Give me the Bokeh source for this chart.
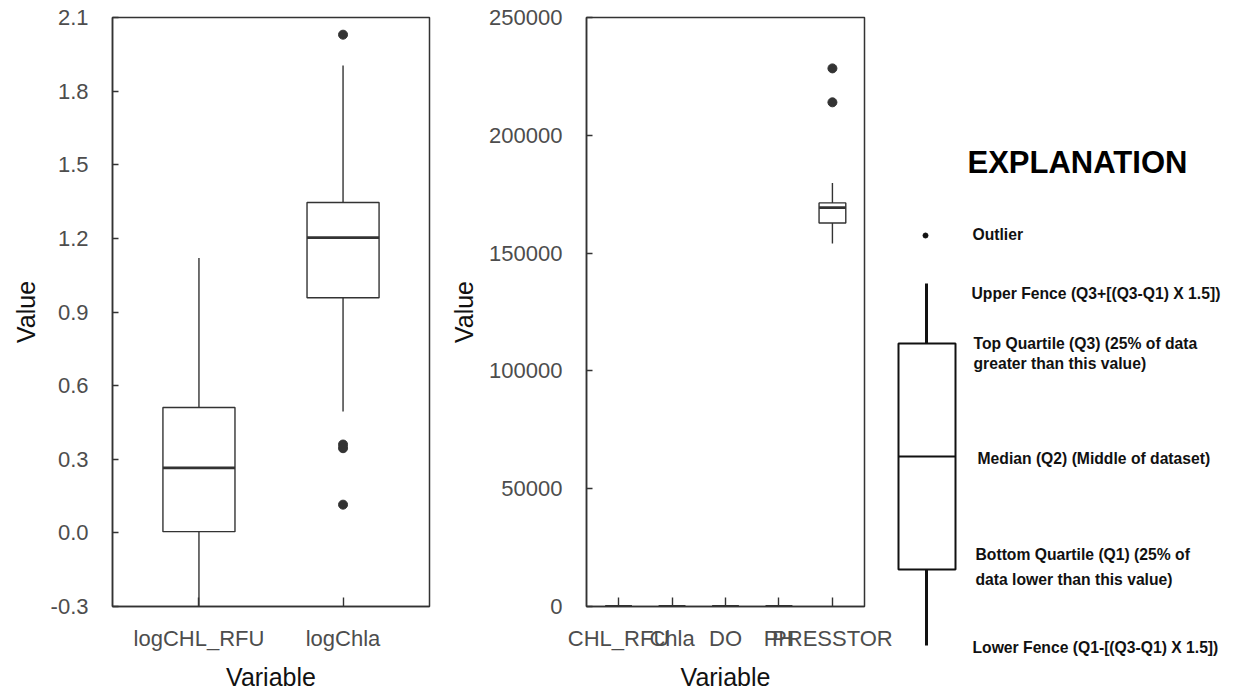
from bokeh.plotting import figure
from bokeh.layouts import row
from bokeh.models import Range1d, FixedTicker, PrintfTickFormatter, ColumnDataSource
from bokeh.transform import dodge
from bokeh.embed import file_html
from bokeh.resources import INLINE
from bokeh.core.properties import value

# ---------------- data: log-transformed variables ----------------
log_vars = ["logCHL_RFU", "logChla"]
log_lower = [-0.30, 0.495]
log_q1 = [0.005, 0.958]
log_median = [0.265, 1.203]
log_q3 = [0.511, 1.346]
log_upper = [1.12, 1.904]
log_out_var = ["logChla", "logChla", "logChla", "logChla"]
log_out_val = [2.03, 0.36, 0.345, 0.115]
log_yticks = [-0.3, 0.0, 0.3, 0.6, 0.9, 1.2, 1.5, 1.8, 2.1]

# ---------------- data: raw variables ----------------
raw_vars = ["CHL_RFU", "Chla", "DO", "PH", "PRESSTOR"]
raw_lower = [0.5, 3.1, 5.0, 7.3, 154100]
raw_q1 = [1.0, 9.1, 7.0, 7.8, 162800]
raw_median = [1.8, 16.0, 8.5, 8.1, 169300]
raw_q3 = [3.2, 22.2, 9.5, 8.4, 171300]
raw_upper = [13.2, 80.0, 12.0, 8.9, 179800]
raw_out_var = ["PRESSTOR", "PRESSTOR"]
raw_out_val = [228400, 214000]
raw_yticks = [0, 50000, 100000, 150000, 200000, 250000]

# ---------------- explanation key (schematic) ----------------
key_fence_low = 48
key_q1 = 124
key_median = 237
key_q3 = 350
key_fence_high = 410
key_outlier = 458
key_texts = ["Outlier",
             "Upper Fence (Q3+[(Q3-Q1) X 1.5])",
             "Top Quartile (Q3) (25% of data",
             "greater than this value)",
             "Median (Q2) (Middle of dataset)",
             "Bottom Quartile (Q1) (25% of",
             "data lower than this value)",
             "Lower Fence (Q1-[(Q3-Q1) X 1.5])"]

LINE = "#333333"
TICK_COLOR = "#4d4d4d"
FONT = "Liberation Sans"
H = 693


def make_panel(cats, lower, q1, med, q3, upper, out_cat, out_val,
               yr, yticks, fmt, width, border_left, border_right):
    p = figure(width=width, height=H, output_backend="svg", toolbar_location=None,
               x_range=Range1d(0.4, len(cats) + 0.6), y_range=Range1d(*yr),
               min_border_left=border_left, min_border_right=border_right,
               min_border_top=17, min_border_bottom=86)
    p.frame_align = False
    p.xgrid.visible = False
    p.ygrid.visible = False
    p.outline_line_color = LINE
    p.outline_line_width = 1.5
    p.background_fill_color = "white"
    p.border_fill_color = "white"

    xs = list(range(1, len(cats) + 1))
    src = ColumnDataSource(dict(x=xs, lower=lower, q1=q1, med=med, q3=q3, upper=upper))
    p.segment(x0="x", y0="q3", x1="x", y1="upper", source=src, line_color=LINE, line_width=1.4)
    p.segment(x0="x", y0="lower", x1="x", y1="q1", source=src, line_color=LINE, line_width=1.4)
    p.vbar(x="x", width=0.5, bottom="q1", top="q3", source=src,
           fill_color="white", line_color=LINE, line_width=1.4)
    p.segment(x0=dodge("x", -0.25), y0="med", x1=dodge("x", 0.25), y1="med", source=src,
              line_color=LINE, line_width=2.8)
    ox = [cats.index(c) + 1 for c in out_cat]
    p.scatter(x=ox, y=out_val, size=9, fill_color=LINE, line_color=LINE)

    # x axis
    xa = p.xaxis[0]
    xa.ticker = FixedTicker(ticks=xs)
    xa.major_label_overrides = {i: c for i, c in zip(xs, cats)}
    xa.minor_tick_line_color = None
    xa.major_tick_in = 9
    xa.major_tick_out = 0
    xa.major_tick_line_color = LINE
    xa.major_tick_line_width = 1.4
    xa.axis_line_color = LINE
    xa.axis_line_width = 1.5
    xa.major_label_text_font = FONT
    xa.major_label_text_font_size = "22px"
    xa.major_label_text_color = TICK_COLOR
    xa.major_label_standoff = 19
    xa.axis_label = "Variable"
    xa.axis_label_text_font = FONT
    xa.axis_label_text_font_size = "25px"
    xa.axis_label_text_font_style = "normal"
    xa.axis_label_text_color = "#111111"
    xa.axis_label_standoff = 9

    # y axis
    ya = p.yaxis[0]
    ya.ticker = FixedTicker(ticks=yticks)
    ya.formatter = PrintfTickFormatter(format=fmt)
    ya.minor_tick_line_color = None
    ya.major_tick_in = 6
    ya.major_tick_out = 0
    ya.major_tick_line_color = LINE
    ya.major_tick_line_width = 1.4
    ya.axis_line_color = LINE
    ya.axis_line_width = 1.5
    ya.major_label_text_font = FONT
    ya.major_label_text_font_size = "22px"
    ya.major_label_text_color = TICK_COLOR
    ya.major_label_standoff = 24
    ya.axis_label = "Value"
    ya.axis_label_text_font = FONT
    ya.axis_label_text_font_size = "25px"
    ya.axis_label_text_font_style = "normal"
    ya.axis_label_text_color = "#111111"
    ya.axis_label_standoff = 8
    return p


p1 = make_panel(log_vars, log_lower, log_q1, log_median, log_q3, log_upper,
                log_out_var, log_out_val, (-0.3, 2.1), log_yticks, "%.1f",
                width=440, border_left=112, border_right=11)
p2 = make_panel(raw_vars, raw_lower, raw_q1, raw_median, raw_q3, raw_upper,
                raw_out_var, raw_out_val, (0, 250000), raw_yticks, "%d",
                width=456, border_left=146, border_right=32)

# ---------------- explanation panel (starts at page x = 896) ----------------
W3 = 337
p3 = figure(width=W3, height=H, output_backend="svg", toolbar_location=None,
            x_range=Range1d(0, W3), y_range=Range1d(0, H),
            min_border=0, min_border_left=0, min_border_right=0,
            min_border_top=0, min_border_bottom=0)
p3.frame_align = False
p3.axis.visible = False
p3.xgrid.visible = False
p3.ygrid.visible = False
p3.outline_line_color = None

bx0, bx1, wx = 2, 59, 30
p3.quad(left=[bx0], right=[bx1], bottom=[key_q1], top=[key_q3],
        fill_color="white", line_color="#111111", line_width=2)
p3.segment(x0=[bx0], x1=[bx1], y0=[key_median], y1=[key_median],
           line_color="#111111", line_width=2)
p3.segment(x0=[wx, wx], x1=[wx, wx], y0=[key_q3, key_fence_low], y1=[key_fence_high, key_q1],
           line_color="#111111", line_width=3)
p3.scatter(x=[29], y=[key_outlier], size=5, fill_color="#111111", line_color="#111111")

p3.text(x=[71], y=[H - 162], text=["EXPLANATION"], text_font=value(FONT),
        text_font_style="bold", text_font_size="31px", text_color="#000000",
        text_baseline="alphabetic", text_align="left")

key_tx = [76, 75, 77, 77, 81, 79, 79, 76]
key_ty = [H - 234, H - 293, H - 343, H - 363, H - 458, H - 554, H - 579, H - 647]
p3.text(x=key_tx, y=key_ty, text=key_texts, text_font=value(FONT),
        text_font_style="bold", text_font_size="15.7px", text_color="#111111",
        text_baseline="middle", text_align="left")

layout = row(p1, p2, p3, spacing=0)
open("out.html", "w").write(file_html(layout, INLINE))
